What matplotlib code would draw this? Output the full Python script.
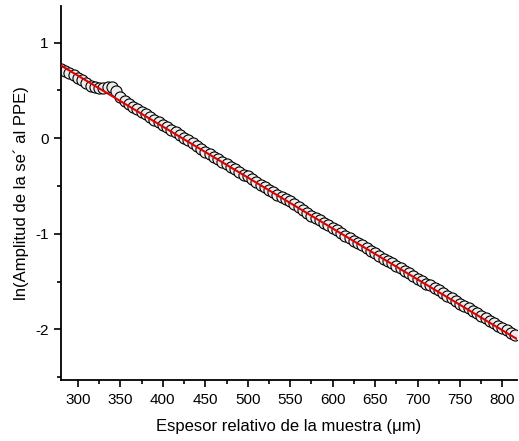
import matplotlib.pyplot as plt
from matplotlib.ticker import MultipleLocator

# thickness (um) and ln(PPE amplitude)
thickness = [
    280, 285, 290, 295, 300, 305, 310, 315, 320, 325, 330, 335, 340, 345,
    350, 355, 360, 365, 370, 375, 380, 385, 390, 395, 400, 405, 410, 415,
    420, 425, 430, 435, 440, 445, 450, 455, 460, 465, 470, 475, 480, 485,
    490, 495, 500, 505, 510, 515, 520, 525, 530, 535, 540, 545, 550, 555,
    560, 565, 570, 575, 580, 585, 590, 595, 600, 605, 610, 615, 620, 625,
    630, 635, 640, 645, 650, 655, 660, 665, 670, 675, 680, 685, 690, 695,
    700, 705, 710, 715, 720, 725, 730, 735, 740, 745, 750, 755, 760, 765,
    770, 775, 780, 785, 790, 795, 800, 805, 810, 815,
]
ln_amp = [
    0.72, 0.70, 0.68, 0.66, 0.63, 0.61, 0.58, 0.55, 0.53, 0.52, 0.52, 0.54,
    0.53, 0.49, 0.43, 0.39, 0.36, 0.33, 0.30, 0.27, 0.25, 0.22, 0.19, 0.17,
    0.14, 0.12, 0.09, 0.06, 0.03, 0.00, -0.02, -0.05, -0.08, -0.11, -0.14,
    -0.17, -0.20, -0.22, -0.25, -0.27, -0.30, -0.32, -0.35, -0.38, -0.40,
    -0.43, -0.46, -0.49, -0.51, -0.54, -0.56, -0.59, -0.62, -0.64, -0.66,
    -0.69, -0.72, -0.75, -0.78, -0.81, -0.83, -0.86, -0.89, -0.91, -0.94,
    -0.96, -0.99, -1.02, -1.04, -1.07, -1.10, -1.12, -1.15, -1.18, -1.20,
    -1.23, -1.26, -1.28, -1.31, -1.34, -1.36, -1.39, -1.41, -1.44, -1.47,
    -1.49, -1.52, -1.54, -1.57, -1.59, -1.62, -1.65, -1.67, -1.70, -1.73,
    -1.75, -1.78, -1.81, -1.83, -1.86, -1.88, -1.91, -1.93, -1.96, -1.99,
    -2.01, -2.04, -2.06,
]

# linear fit end points
fit_x = [280, 817]
fit_y = [0.76, -2.10]

plt.rcParams["font.family"] = ["Liberation Sans", "DejaVu Sans"]
plt.rcParams["axes.unicode_minus"] = False

fig = plt.figure(figsize=(5.19, 4.41), dpi=100)
ax = fig.add_axes([0.1175, 0.138, 0.8785, 0.848])

ax.plot(thickness, ln_amp, "o", ms=8, mfc="#ececec", mec="black", mew=0.8,
        clip_on=True, zorder=2)
ax.plot(fit_x, fit_y, color="#e00000", lw=1.5, zorder=3)

ax.set_xlim(280, 817)
ax.set_ylim(-2.53, 1.38)
ax.xaxis.set_major_locator(MultipleLocator(50))
ax.xaxis.set_minor_locator(MultipleLocator(25))
ax.yaxis.set_major_locator(MultipleLocator(1))
ax.yaxis.set_minor_locator(MultipleLocator(0.5))

ax.spines["top"].set_visible(False)
ax.spines["right"].set_visible(False)
for s in ("left", "bottom"):
    ax.spines[s].set_linewidth(1.3)

ax.tick_params(which="major", direction="out", length=5, width=1.2,
               labelsize=11, pad=4)
ax.tick_params(which="minor", direction="out", length=3, width=1.2)

ax.set_xlabel("Espesor relativo de la muestra (μm)", fontsize=12, labelpad=9)
ax.set_ylabel("ln(Amplitud de la se´ al PPE)", fontsize=12, labelpad=4)

fig.savefig("out.png", dpi=100)
